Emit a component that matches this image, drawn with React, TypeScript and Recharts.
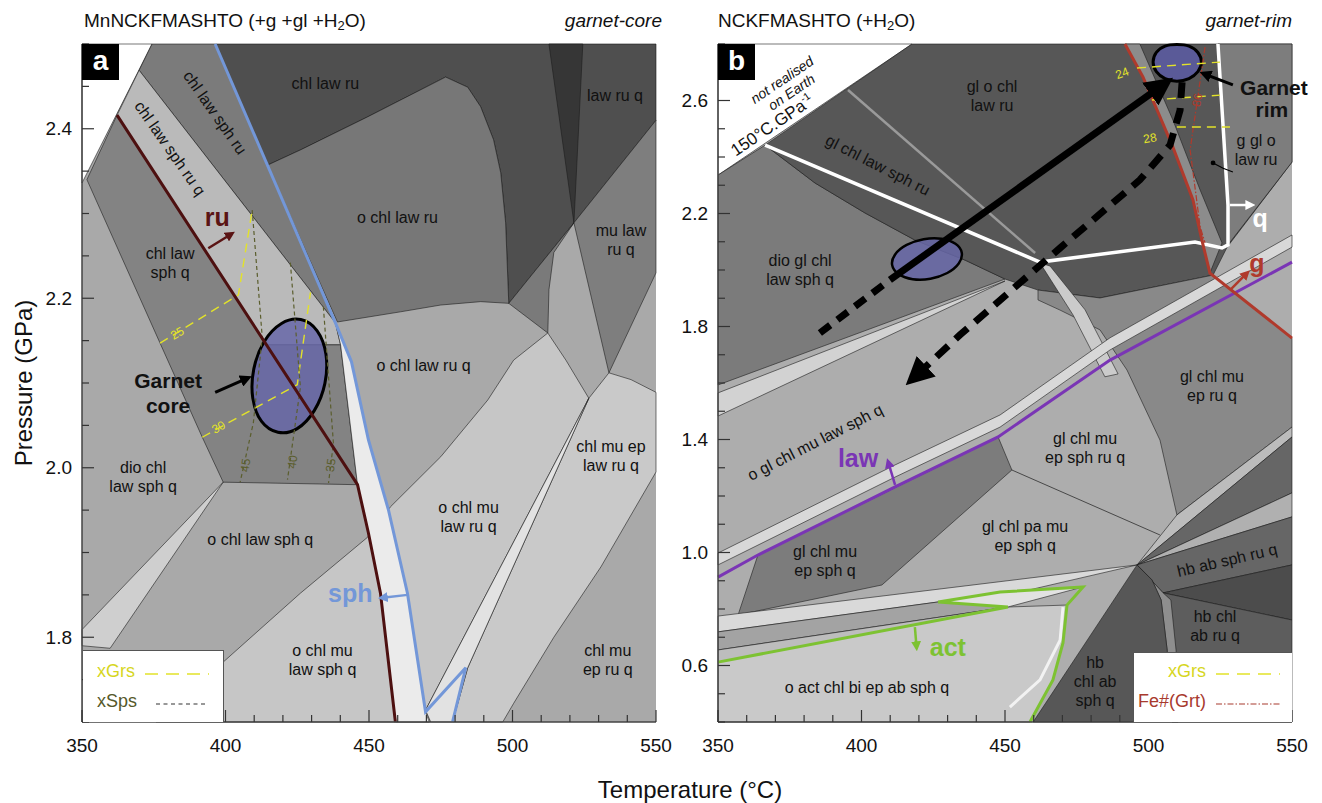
import React from 'react'
import { ComposedChart, Area, Line, Scatter, XAxis, YAxis } from 'recharts'

type Pt = [number, number]
type Label = { x: number; y: number; text: string; angle?: number }

const FONT = '"Liberation Sans", Arial, Helvetica, sans-serif'

// axes
const tempTicks = [350, 360, 370, 380, 390, 400, 410, 420, 430, 440, 450, 460, 470, 480, 490, 500, 510, 520, 530, 540, 550]
const tempLabels = [350, 400, 450, 500, 550]
const pressTicksA = [1.7, 1.75, 1.8, 1.85, 1.9, 1.95, 2.0, 2.05, 2.1, 2.15, 2.2, 2.25, 2.3, 2.35, 2.4, 2.45, 2.5]
const pressLabelsA = [1.8, 2.0, 2.2, 2.4]
const pressTicksB = [0.4, 0.5, 0.6, 0.7, 0.8, 0.9, 1.0, 1.1, 1.2, 1.3, 1.4, 1.5, 1.6, 1.7, 1.8, 1.9, 2.0, 2.1, 2.2, 2.3, 2.4, 2.5, 2.6, 2.7, 2.8]
const pressLabelsB = [0.6, 1.0, 1.4, 1.8, 2.2, 2.6]

// ---------- panel a (garnet core), T °C / P GPa ----------
const aFrame: Pt[] = [[350, 1.7], [550, 1.7], [550, 2.5], [350, 2.5], [350, 1.7]]
const aUnrealised: Pt[] = [[350, 2.5], [374.4, 2.5], [350, 2.336], [350, 2.5]]
const aChlLawSphRu: Pt[] = [[374.4, 2.5], [396.4, 2.5], [438.3, 2.171], [369.9, 2.469], [374.4, 2.5]]
const aChlLawSphRuQ: Pt[] = [[369.9, 2.469], [438.3, 2.171], [440.1, 2.145], [414.2, 2.145], [362.2, 2.416], [369.9, 2.469]]
const aChlLawSphQ: Pt[] = [[351.7, 2.34], [362.2, 2.416], [414.2, 2.145], [440.1, 2.145], [446.0, 1.98], [399.2, 1.983], [391.9, 2.036], [377.2, 2.147], [351.7, 2.34]]
const aChlLawRu: Pt[] = [[396.4, 2.5], [550, 2.5], [550, 2.41], [521.4, 2.289], [498.7, 2.194], [497.6, 2.289], [495.9, 2.348], [493.4, 2.387], [488.9, 2.426], [484.4, 2.449], [476.7, 2.461], [449.5, 2.414], [426.1, 2.375], [414.6, 2.357], [396.4, 2.5]]
const aWedgeTop: Pt[] = [[512.7, 2.5], [524.5, 2.5], [521.4, 2.289], [512.7, 2.5]]
const aOChlLawRu: Pt[] = [[414.6, 2.357], [426.1, 2.375], [449.5, 2.414], [476.7, 2.461], [484.4, 2.449], [488.9, 2.426], [493.4, 2.387], [495.9, 2.348], [497.6, 2.289], [498.7, 2.194], [488.9, 2.196], [475.0, 2.192], [461.0, 2.184], [439.0, 2.172], [414.6, 2.357]]
const aMuLawRuQ: Pt[] = [[521.4, 2.289], [550, 2.41], [550, 2.23], [533.6, 2.112], [521.4, 2.289]]
const aSmallField: Pt[] = [[498.7, 2.194], [521.4, 2.289], [514.4, 2.254], [512.7, 2.21], [512.3, 2.159], [498.7, 2.194]]
const aOChlMu: Pt[] = [[375.8, 1.7], [426.1, 1.852], [449.5, 1.918], [457.5, 1.954], [475.0, 2.013], [491.4, 2.08], [500.4, 2.127], [512.3, 2.159], [518.6, 2.127], [526.6, 2.082], [469.7, 1.714], [471.5, 1.7], [375.8, 1.7]]
const aChlMuEpLawRuQ: Pt[] = [[526.6, 2.082], [533.6, 2.112], [541.3, 2.104], [550, 2.089], [550, 1.995], [530.8, 1.883], [514.4, 1.8], [500.4, 1.722], [496.6, 1.7], [479.1, 1.7], [484.4, 1.764], [526.6, 2.082]]
const aSliver: Pt[] = [[526.6, 2.082], [484.4, 1.764], [479.1, 1.7], [471.5, 1.7], [469.7, 1.714], [526.6, 2.082]]
const aSphBand: Pt[] = [[438.3, 2.171], [440.1, 2.145], [446.0, 1.98], [449.8, 1.923], [454.0, 1.852], [459.2, 1.7], [471.0, 1.7], [469.7, 1.712], [463.4, 1.852], [456.8, 1.95], [449.8, 2.033], [443.9, 2.125], [438.3, 2.171]]
const aWedgeLeft: Pt[] = [[399.2, 1.983], [350, 1.809], [350, 1.79], [359.8, 1.787], [399.2, 1.983]]
const aGarnetCore: Pt[] = [[426.4, 2.178], [432.4, 2.164], [435.6, 2.135], [435.2, 2.099], [431.4, 2.066], [425.1, 2.043], [418.1, 2.039], [412.1, 2.052], [408.9, 2.081], [409.3, 2.117], [413.1, 2.151], [419.4, 2.173]]

const aRutileLine: Pt[] = [[362.2, 2.416], [446.0, 1.98], [449.8, 1.923], [454.0, 1.852], [459.2, 1.7]]
const aTitaniteLine: Pt[] = [[396.4, 2.5], [438.3, 2.171], [443.9, 2.125], [449.8, 2.033], [456.8, 1.95], [463.4, 1.852], [469.7, 1.712], [483.7, 1.764], [479.1, 1.7]]
const aGrs25: Pt[] = [[377.2, 2.147], [404.5, 2.204], [409.3, 2.304]]
const aGrs30: Pt[] = [[391.9, 2.036], [425.0, 2.098], [429.6, 2.207]]
const aSps45: Pt[] = [[409.3, 2.304], [412.8, 2.154], [409.7, 2.053], [405.1, 1.983]]
const aSps40: Pt[] = [[422.6, 2.242], [426.1, 2.095], [421.6, 1.986]]
const aSps35: Pt[] = [[434.1, 2.19], [437.6, 2.029], [435.9, 1.982]]
const aRuArrow: Pt[] = [[394.0, 2.259], [401.2, 2.274]]
const aCoreArrow: Pt[] = [[396.4, 2.089], [406.5, 2.104]]
const aSphArrow: Pt[] = [[463.4, 1.85], [455.5, 1.847]]

const aFieldLabels: Label[] = [
  { x: 434.8, y: 2.453, text: 'chl law ru' },
  { x: 535.7, y: 2.439, text: 'law ru q' },
  { x: 380.7, y: 2.242, text: 'chl law\nsph q' },
  { x: 459.9, y: 2.295, text: 'o chl law ru' },
  { x: 537.8, y: 2.269, text: 'mu law\nru q' },
  { x: 469.0, y: 2.121, text: 'o chl law ru q' },
  { x: 484.7, y: 1.942, text: 'o chl mu\nlaw ru q' },
  { x: 534.3, y: 2.014, text: 'chl mu ep\nlaw ru q' },
  { x: 533.2, y: 1.773, text: 'chl mu\nep ru q' },
  { x: 371.3, y: 1.989, text: 'dio chl\nlaw sph q' },
  { x: 412.1, y: 1.915, text: 'o chl law sph q' },
  { x: 433.8, y: 1.773, text: 'o chl mu\nlaw sph q' },
  { x: 396.4, y: 2.419, text: 'chl law sph ru', angle: 55 },
  { x: 380.7, y: 2.377, text: 'chl law sph ru q', angle: 55 },
]
const aBoldLabels: Label[] = [{ x: 380.0, y: 2.088, text: 'Garnet\ncore' }]
const aReactionLabels: Label[] = [
  { x: 397.1, y: 2.295, text: 'ru' },
  { x: 443.5, y: 1.852, text: 'sph' },
]
const aGrsLabels: Label[] = [
  { x: 383.2, y: 2.159, text: '25', angle: -30 },
  { x: 397.5, y: 2.048, text: '30', angle: -30 },
]
const aSpsLabels: Label[] = [
  { x: 406.9, y: 2.003, text: '45', angle: -82 },
  { x: 423.3, y: 2.007, text: '40', angle: -82 },
  { x: 436.6, y: 2.003, text: '35', angle: -82 },
]

// ---------- panel b (garnet rim) ----------
const bFrame: Pt[] = [[350, 0.4], [550, 0.4], [550, 2.8], [350, 2.8], [350, 0.4]]
const bUnrealised: Pt[] = [[350, 2.8], [417.6, 2.8], [350, 2.336], [350, 2.8]]
const bDioGlChl: Pt[] = [[350, 2.336], [366.4, 2.442], [383.8, 2.308], [401.2, 2.202], [418.6, 2.106], [436.1, 2.035], [450.0, 1.968], [350, 1.593], [350, 2.336]]
const bDarkTop: Pt[] = [[366.4, 2.442], [417.6, 2.8], [550, 2.8], [550, 2.382], [527.4, 2.081], [522.5, 1.982], [483.1, 1.901], [461.5, 1.929], [450.0, 1.968], [436.1, 2.035], [418.6, 2.106], [401.2, 2.202], [383.8, 2.308], [366.4, 2.442]]
const bRedBand: Pt[] = [[491.8, 2.8], [497.0, 2.8], [508.5, 2.531], [518.0, 2.283], [525.6, 2.096], [521.4, 1.989], [518.6, 2.106], [515.5, 2.248], [508.5, 2.435], [498.1, 2.683], [491.8, 2.8]]
const bQuartzSide: Pt[] = [[524.2, 2.8], [550, 2.8], [550, 2.382], [527.7, 2.089], [527.7, 2.23], [524.2, 2.8]]
const bCurvedBand: Pt[] = [[462.2, 2.025], [465.7, 2.014], [477.9, 1.859], [489.4, 1.632], [484.8, 1.622], [473.7, 1.841], [462.2, 2.025]]
const bGlChlMuEpRuQ: Pt[] = [[461.5, 1.929], [483.1, 1.901], [522.5, 1.982], [550, 1.759], [550, 1.444], [509.9, 1.133], [504.0, 1.398], [492.5, 1.646], [483.1, 1.788], [469.2, 1.858], [461.5, 1.894], [461.5, 1.929]]
const bLawBand: Pt[] = [[350, 0.998], [411.7, 1.31], [448.3, 1.487], [486.6, 1.76], [550, 2.124], [550, 2.081], [486.6, 1.717], [448.3, 1.444], [411.7, 1.267], [350, 0.956], [350, 0.998]]
const bUpperBand: Pt[] = [[350, 1.565], [450.0, 1.961], [350, 1.483], [350, 1.565]]
const bGlChlMuEpSphQ: Pt[] = [[363.9, 0.991], [447.6, 1.409], [452.4, 1.292], [407.1, 0.885], [357.0, 0.779], [363.9, 0.991]]
const bLowBandLight: Pt[] = [[350, 0.775], [496.0, 0.956], [451.0, 0.85], [426.7, 0.825], [350, 0.719], [350, 0.775]]
const bLowBandMid: Pt[] = [[350, 0.719], [426.7, 0.825], [451.0, 0.807], [350, 0.655], [350, 0.719]]
const bLowBandPale: Pt[] = [[350, 0.655], [451.0, 0.807], [350, 0.612], [350, 0.655]]
const bActField: Pt[] = [[350, 0.612], [451.0, 0.807], [471.6, 0.814], [470.2, 0.68], [466.7, 0.549], [458.7, 0.4], [350, 0.4], [350, 0.612]]
const bActNotch: Pt[] = [[426.7, 0.825], [451.0, 0.807], [477.2, 0.878], [448.3, 0.86], [426.7, 0.825]]
const bFanPale: Pt[] = [[496.0, 0.956], [509.9, 1.133], [550, 1.444], [550, 1.409], [496.0, 0.956]]
const bFanDark: Pt[] = [[496.0, 0.956], [550, 1.409], [550, 1.211], [496.0, 0.956]]
const bFanPale2: Pt[] = [[496.0, 0.956], [550, 1.211], [550, 1.126], [496.0, 0.956]]
const bHbAbSphRuQ: Pt[] = [[496.0, 0.956], [550, 1.126], [550, 0.956], [505.1, 0.857], [496.0, 0.956]]
const bHbDark: Pt[] = [[505.1, 0.857], [550, 0.956], [550, 0.761], [505.1, 0.857]]
const bHbChlAbRuQ: Pt[] = [[505.1, 0.857], [550, 0.761], [550, 0.4], [508.2, 0.4], [507.5, 0.655], [505.1, 0.857]]
const bHbBand: Pt[] = [[496.0, 0.956], [501.2, 0.903], [504.4, 0.832], [506.5, 0.655], [507.2, 0.4], [510.3, 0.4], [509.6, 0.655], [507.8, 0.832], [505.1, 0.857], [496.0, 0.956]]
const bHbChlAbSphQ: Pt[] = [[496.0, 0.956], [501.2, 0.903], [504.4, 0.832], [506.5, 0.655], [507.2, 0.4], [459.8, 0.4], [496.0, 0.956]]
const bGarnetRim: Pt[] = [[518.9, 2.736], [517.5, 2.701], [514.3, 2.675], [509.9, 2.665], [505.6, 2.675], [502.4, 2.701], [501.2, 2.736], [502.4, 2.772], [505.6, 2.796], [509.9, 2.799], [514.3, 2.796], [517.5, 2.772]]
const bPeakEstimate: Pt[] = [[435.5, 2.062], [434.4, 2.022], [430.2, 1.987], [424.1, 1.966], [417.6, 1.964], [412.5, 1.983], [410.1, 2.016], [411.2, 2.056], [415.4, 2.091], [421.6, 2.112], [428.1, 2.114], [433.2, 2.095]]

const bWhiteLine: Pt[] = [[524.2, 2.8], [527.7, 2.23], [527.7, 2.089], [525.6, 2.078], [516.2, 2.099], [462.2, 2.028], [366.4, 2.442]]
const bSliverLine: Pt[] = [[395.3, 2.637], [460.5, 2.06]]
const bGarnetLine: Pt[] = [[491.8, 2.8], [498.1, 2.683], [508.5, 2.435], [515.5, 2.248], [518.6, 2.106], [521.4, 1.989], [550, 1.759]]
const bFeNumber: Pt[] = [[519.7, 2.789], [514.5, 2.425], [518.0, 2.152], [519.7, 2.096]]
const bLawsoniteLine: Pt[] = [[350, 0.913], [363.9, 0.991], [411.7, 1.232], [447.6, 1.409], [486.6, 1.681], [550, 2.028]]
const bActinoliteLine: Pt[] = [[350, 0.612], [451.0, 0.807], [426.7, 0.825], [448.3, 0.86], [477.2, 0.878], [471.6, 0.814], [470.2, 0.68], [466.7, 0.549], [458.7, 0.4]]
const bWhiteSliver: Pt[] = [[470.2, 0.807], [469.2, 0.69], [462.2, 0.549], [451.7, 0.453]]
const bSphRuLine: Pt[] = [[452.4, 1.292], [504.0, 1.062]]
const bGrs24: Pt[] = [[496.0, 2.715], [524.9, 2.736]]
const bGrs26: Pt[] = [[501.2, 2.602], [524.9, 2.619]]
const bGrs28: Pt[] = [[509.9, 2.506], [528.4, 2.506]]
const bPathStart: Pt[] = [[385.5, 1.777], [409.9, 1.965]]
const bPathPrograde: Pt[] = [[409.9, 1.965], [503.0, 2.64]]
const bPathRetrograde: Pt[] = [[511.7, 2.665], [511.0, 2.566], [507.5, 2.442], [497.0, 2.319], [469.2, 2.078], [434.3, 1.77], [420.4, 1.639]]
const bLawArrow: Pt[] = [[411.7, 1.239], [409.6, 1.31]]
const bActArrow: Pt[] = [[418.6, 0.736], [419.1, 0.675]]
const bQArrow: Pt[] = [[528.4, 2.23], [534.8, 2.23]]
const bGArrow: Pt[] = [[528.4, 1.929], [533.6, 1.982]]
const bRimArrow: Pt[] = [[529.4, 2.655], [520.5, 2.69]]
const bCallout: Pt[] = [[522.5, 2.379], [526.0, 2.36], [529.4, 2.347]]

const bFieldLabels: Label[] = [
  { x: 445.5, y: 2.616, text: 'gl o chl\nlaw ru' },
  { x: 378.6, y: 2.0, text: 'dio gl chl\nlaw sph q' },
  { x: 537.5, y: 2.425, text: 'g gl o\nlaw ru' },
  { x: 387.3, y: 0.97, text: 'gl chl mu\nep sph q' },
  { x: 457.0, y: 1.058, text: 'gl chl pa mu\nep sph q' },
  { x: 477.9, y: 1.37, text: 'gl chl mu\nep sph ru q' },
  { x: 522.1, y: 1.589, text: 'gl chl mu\nep ru q' },
  { x: 523.2, y: 0.74, text: 'hb chl\nab ru q' },
  { x: 481.4, y: 0.545, text: 'hb\nchl ab\nsph q' },
  { x: 401.9, y: 0.524, text: 'o act chl bi ep ab sph q' },
  { x: 405.7, y: 2.372, text: 'gl chl law sph ru', angle: 27 },
  { x: 383.8, y: 1.391, text: 'o gl chl mu law sph q', angle: -27 },
  { x: 527.4, y: 0.973, text: 'hb ab sph ru q', angle: -13 },
]
const bBoldLabels: Label[] = [
  { x: 543.7, y: 2.644, text: 'Garnet' },
  { x: 543.0, y: 2.566, text: 'rim' },
]
const bReactionLabels: Label[] = [
  { x: 398.8, y: 1.335, text: 'law' },
  { x: 430.1, y: 0.666, text: 'act' },
  { x: 538.9, y: 2.184, text: 'q' },
  { x: 537.8, y: 2.025, text: 'g' },
]
const bNoteLabels: Label[] = [
  { x: 372.3, y: 2.673, text: 'not realised', angle: -34 },
  { x: 375.6, y: 2.63, text: 'on Earth', angle: -34 },
]
const bGradientLabel: Label[] = [{ x: 368.8, y: 2.513, text: '150°C.GPa', angle: -34 }]
const bGrsLabels: Label[] = [
  { x: 490.8, y: 2.697, text: '24', angle: -20 },
  { x: 500.5, y: 2.467, text: '28', angle: -10 },
]
const bFeLabels: Label[] = [{ x: 516.9, y: 2.602, text: '86', angle: -80 }]

// ---------- helpers ----------
const rows = (pts: Pt[]) => pts.map(([x, y]) => ({ x, y }))
const isIn = (v: number, list: number[]) => list.some((l) => Math.abs(l - v) < 1e-6)

const reactionColor: Record<string, string> = {
  ru: '#5a1414', sph: '#7397d8', law: '#7a35b5', act: '#7dc232', q: '#ffffff', g: '#b03a2c',
}

function field(key: string, pts: Pt[], fill: string, type: any = 'linear', stroke = '#1c1c1c', sw = 0.6, opacity = 1) {
  return (
    <Area key={key} data={rows(pts)} dataKey="y" type={type} fill={fill} fillOpacity={opacity}
      stroke={stroke} strokeWidth={sw} dot={false} activeDot={false} isAnimationActive={false} />
  )
}

function curve(key: string, pts: Pt[], color: string, width: number, dash?: string, markerEnd?: string, markerStart?: string) {
  return (
    <Line key={key} data={rows(pts)} dataKey="y" type="linear" stroke={color} strokeWidth={width}
      strokeDasharray={dash} dot={false} activeDot={false} isAnimationActive={false}
      markerEnd={markerEnd} markerStart={markerStart} />
  )
}

function textShape(size: number, color: string | ((t: string) => string), weight: number | string = 400, italic = false, sup?: string) {
  return (p: any) => {
    const { cx, cy, payload } = p
    if (cx == null || cy == null) return <g />
    const lines = String(payload.text).split('\n')
    const lh = size * 1.18
    const top = cy - ((lines.length - 1) * lh) / 2
    const fill = typeof color === 'function' ? color(payload.text) : color
    return (
      <text textAnchor="middle" fontSize={size} fontFamily={FONT} fontWeight={weight}
        fontStyle={italic ? 'italic' : 'normal'} fill={fill}
        transform={payload.angle ? `rotate(${payload.angle} ${cx} ${cy})` : undefined}>
        {lines.map((l, i) => (
          <tspan key={i} x={cx} y={top + i * lh} dy="0.35em">{l}</tspan>
        ))}
        {sup && <tspan dy="-0.65em" fontSize={size * 0.62}>{sup}</tspan>}
      </text>
    )
  }
}

function labels(key: string, data: Label[], shape: (p: any) => React.ReactElement) {
  return <Scatter key={key} data={data} dataKey="y" isAnimationActive={false} shape={shape} />
}

function bottomTick(p: any) {
  const { x, y, payload } = p
  const major = isIn(payload.value, tempLabels)
  return (
    <g>
      <line x1={x} x2={x} y1={y} y2={y - (major ? 12 : 7)} stroke="#333" strokeWidth={1.2} />
      {major && (
        <text x={x} y={y + 30} textAnchor="middle" fontSize={19} fontFamily={FONT} fill="#111">{payload.value}</text>
      )}
    </g>
  )
}

function topTick(p: any) {
  const { x, y, payload } = p
  const major = isIn(payload.value, tempLabels)
  return <line x1={x} x2={x} y1={y} y2={y + (major ? 12 : 7)} stroke="#333" strokeWidth={1.2} />
}

function leftTick(labelsList: number[]) {
  return (p: any) => {
    const { x, y, payload } = p
    const major = isIn(payload.value, labelsList)
    return (
      <g>
        <line x1={x} x2={x + (major ? 12 : 7)} y1={y} y2={y} stroke="#333" strokeWidth={1.2} />
        {major && (
          <text x={x - 10} y={y} dy="0.35em" textAnchor="end" fontSize={19} fontFamily={FONT} fill="#111">
            {Number(payload.value).toFixed(1)}
          </text>
        )}
      </g>
    )
  }
}

function rightTick(labelsList: number[]) {
  return (p: any) => {
    const { x, y, payload } = p
    const major = isIn(payload.value, labelsList)
    return <line x1={x} x2={x - (major ? 12 : 7)} y1={y} y2={y} stroke="#333" strokeWidth={1.2} />
  }
}

function axes(yDomain: [number, number], yTicks: number[], yLabels: number[], leftWidth: number) {
  const line = { stroke: '#444', strokeWidth: 1.5 }
  return [
    <XAxis key="xb" xAxisId={0} type="number" dataKey="x" domain={[350, 550]} ticks={tempTicks} interval={0}
      tickSize={0} tickMargin={0} height={81} axisLine={line} tickLine={false} tick={bottomTick} />,
    <XAxis key="xt" xAxisId="top" orientation="top" type="number" dataKey="x" domain={[350, 550]} ticks={tempTicks}
      interval={0} tickSize={0} tickMargin={0} height={0} axisLine={line} tickLine={false} tick={topTick} />,
    <YAxis key="yl" yAxisId={0} type="number" dataKey="y" domain={yDomain} ticks={yTicks} interval={0}
      tickSize={0} tickMargin={0} width={leftWidth} axisLine={line} tickLine={false} tick={leftTick(yLabels)} />,
    <YAxis key="yr" yAxisId="right" orientation="right" type="number" dataKey="y" domain={yDomain} ticks={yTicks}
      interval={0} tickSize={0} tickMargin={0} width={0} axisLine={line} tickLine={false} tick={rightTick(yLabels)} />,
  ]
}

const fieldText = textShape(16, '#111')
const boldText = textShape(21, '#111', 700)
const reactionText = textShape(25, (t) => reactionColor[t] || '#000', 700)
const grsText = textShape(12, '#e2e22a')
const spsText = textShape(12, '#5b5e2e')
const feText = textShape(12, '#b03a2c')
const noteText = textShape(14, '#111', 400, true)
const gradientText = textShape(17, '#111', 400, false, '-1')

function Marker({ id, color, shape = 'arrow' }: { id: string; color: string; shape?: string }) {
  if (shape === 'dot') {
    return (
      <marker id={id} viewBox="0 0 10 10" refX="5" refY="5" markerWidth="5" markerHeight="5">
        <circle cx="5" cy="5" r="4" fill={color} />
      </marker>
    )
  }
  return (
    <marker id={id} viewBox="0 0 10 10" refX="3" refY="5" markerWidth="4" markerHeight="4" orient="auto">
      <path d="M0,0 L10,5 L0,10 z" fill={color} />
    </marker>
  )
}

function PanelA() {
  return (
    <ComposedChart width={700} height={803} margin={{ top: 44, right: 44, bottom: 0, left: 0 }}>
      {field('bg', aFrame, '#a9a9a9', 'linear', 'none')}
      {field('unreal', aUnrealised, '#ffffff')}
      {field('clsr', aChlLawSphRu, '#7b7b7b')}
      {field('clsrq', aChlLawSphRuQ, '#bababa')}
      {field('clsq', aChlLawSphQ, '#838383')}
      {field('clr', aChlLawRu, '#4f4f4f')}
      {field('wedgeTop', aWedgeTop, '#363636')}
      {field('oclr', aOChlLawRu, '#777777')}
      {field('mlrq', aMuLawRuQ, '#7e7e7e')}
      {field('small', aSmallField, '#7a7a7a')}
      {field('ocm', aOChlMu, '#c6c6c6')}
      {field('cmelrq', aChlMuEpLawRuQ, '#c9c9c9')}
      {field('sliver', aSliver, '#e2e2e2')}
      {field('sphband', aSphBand, '#ebebeb')}
      {field('wedgeLeft', aWedgeLeft, '#cfcfcf')}
      {field('core', aGarnetCore, '#6767a8', 'basisClosed', '#000', 3, 0.85)}

      {curve('grs25', aGrs25, '#e2e22a', 1.4, '9 6')}
      {curve('grs30', aGrs30, '#e2e22a', 1.4, '9 6')}
      {curve('sps45', aSps45, '#5b5e2e', 1.2, '4 3')}
      {curve('sps40', aSps40, '#5b5e2e', 1.2, '4 3')}
      {curve('sps35', aSps35, '#5b5e2e', 1.2, '4 3')}
      {curve('ru', aRutileLine, '#4d1010', 3)}
      {curve('sph', aTitaniteLine, '#7397d8', 3)}
      {curve('ruArrow', aRuArrow, '#5a1414', 2.5, undefined, 'url(#m-ru)')}
      {curve('coreArrow', aCoreArrow, '#000', 3, undefined, 'url(#m-black)')}
      {curve('sphArrow', aSphArrow, '#7397d8', 2.5, undefined, 'url(#m-blue)')}

      {labels('fl', aFieldLabels, fieldText)}
      {labels('bl', aBoldLabels, boldText)}
      {labels('rl', aReactionLabels, reactionText)}
      {labels('gl', aGrsLabels, grsText)}
      {labels('sl', aSpsLabels, spsText)}

      {axes([1.7, 2.5], pressTicksA, pressLabelsA, 82)}
    </ComposedChart>
  )
}

function PanelB() {
  return (
    <ComposedChart width={682} height={803} margin={{ top: 44, right: 30, bottom: 0, left: 0 }}>
      {field('bg', bFrame, '#adadad', 'linear', 'none')}
      {field('unreal', bUnrealised, '#ffffff')}
      {field('dio', bDioGlChl, '#7b7b7b')}
      {field('dark', bDarkTop, '#575757')}
      {field('redband', bRedBand, '#8c8c8c')}
      {field('qside', bQuartzSide, '#7d7d7d')}
      {field('gcmer', bGlChlMuEpRuQ, '#898989')}
      {field('curved', bCurvedBand, '#cbcbcb')}
      {field('lawband', bLawBand, '#d8d8d8')}
      {field('upband', bUpperBand, '#d2d2d2')}
      {field('quad', bGlChlMuEpSphQ, '#7c7c7c')}
      {field('lowL', bLowBandLight, '#d9d9d9')}
      {field('lowM', bLowBandMid, '#a3a3a3')}
      {field('lowP', bLowBandPale, '#bdbdbd')}
      {field('act', bActField, '#c9c9c9')}
      {field('notch', bActNotch, '#e2e2e2')}
      {field('fanP', bFanPale, '#bcbcbc')}
      {field('fanD', bFanDark, '#666666')}
      {field('fanP2', bFanPale2, '#b0b0b0')}
      {field('hbab', bHbAbSphRuQ, '#666666')}
      {field('hbdark', bHbDark, '#4c4c4c')}
      {field('hbchl', bHbChlAbRuQ, '#5d5d5d')}
      {field('hbband', bHbBand, '#8e8e8e')}
      {field('hbsph', bHbChlAbSphQ, '#575757')}
      {field('peak', bPeakEstimate, '#6767a8', 'basisClosed', '#000', 2.5, 0.85)}
      {field('rim', bGarnetRim, '#5a5a98', 'basisClosed', '#000', 3, 1)}

      {curve('sliver', bSliverLine, '#9a9a9a', 2.5)}
      {curve('sphru', bSphRuLine, '#1c1c1c', 0.7)}
      {curve('white', bWhiteLine, '#ffffff', 3.5)}
      {curve('wsliver', bWhiteSliver, '#f2f2f2', 3)}
      {curve('law', bLawsoniteLine, '#7a35b5', 3)}
      {curve('act', bActinoliteLine, '#7dc232', 3)}
      {curve('garnet', bGarnetLine, '#b03a2c', 3)}
      {curve('fe', bFeNumber, '#b03a2c', 1.2, '6 2 1.5 2')}
      {curve('g24', bGrs24, '#e2e22a', 1.4, '9 6')}
      {curve('g26', bGrs26, '#e2e22a', 1.4, '9 6')}
      {curve('g28', bGrs28, '#e2e22a', 1.4, '9 6')}
      {curve('pathStart', bPathStart, '#000', 7, '13 9')}
      {curve('prograde', bPathPrograde, '#000', 7, undefined, 'url(#m-black)')}
      {curve('retro', bPathRetrograde, '#000', 7, '16 10', 'url(#m-black)')}
      {curve('lawArrow', bLawArrow, '#7a35b5', 2.5, undefined, 'url(#m-purple)')}
      {curve('actArrow', bActArrow, '#7dc232', 2.5, undefined, 'url(#m-green)')}
      {curve('qArrow', bQArrow, '#ffffff', 2.5, undefined, 'url(#m-white)')}
      {curve('gArrow', bGArrow, '#b03a2c', 2.5, undefined, 'url(#m-red)')}
      {curve('rimArrow', bRimArrow, '#000', 3, undefined, 'url(#m-black)')}
      {curve('callout', bCallout, '#000', 1.2, undefined, undefined, 'url(#m-dot)')}

      {labels('fl', bFieldLabels, fieldText)}
      {labels('bl', bBoldLabels, boldText)}
      {labels('rl', bReactionLabels, reactionText)}
      {labels('nl', bNoteLabels, noteText)}
      {labels('gr', bGradientLabel, gradientText)}
      {labels('gl', bGrsLabels, grsText)}
      {labels('fe', bFeLabels, feText)}

      {axes([0.4, 2.8], pressTicksB, pressLabelsB, 78)}
    </ComposedChart>
  )
}

const abs = (s: React.CSSProperties): React.CSSProperties => ({ position: 'absolute', ...s })

export default function App() {
  return (
    <div style={abs({ left: 0, top: 0, width: 1322, height: 803, background: '#fff', fontFamily: FONT, overflow: 'hidden', color: '#111' })}>
      <svg width={0} height={0} style={{ position: 'absolute' }}>
        <defs>
          <Marker id="m-black" color="#000" />
          <Marker id="m-ru" color="#5a1414" />
          <Marker id="m-blue" color="#7397d8" />
          <Marker id="m-purple" color="#7a35b5" />
          <Marker id="m-green" color="#7dc232" />
          <Marker id="m-white" color="#ffffff" />
          <Marker id="m-red" color="#b03a2c" />
          <Marker id="m-dot" color="#000" shape="dot" />
        </defs>
      </svg>

      <div style={abs({ left: 0, top: 0 })}><PanelA /></div>
      <div style={abs({ left: 640, top: 0 })}><PanelB /></div>

      <div style={abs({ left: 84, top: 10, fontSize: 19, whiteSpace: 'nowrap' })}>
        MnNCKFMASHTO (+g +gl +H<span style={{ fontSize: 13, verticalAlign: '-0.2em' }}>2</span>O)
      </div>
      <div style={abs({ left: 500, width: 162, top: 10, fontSize: 19, fontStyle: 'italic', textAlign: 'right' })}>garnet-core</div>
      <div style={abs({ left: 718, top: 10, fontSize: 19, whiteSpace: 'nowrap' })}>
        NCKFMASHTO (+H<span style={{ fontSize: 13, verticalAlign: '-0.2em' }}>2</span>O)
      </div>
      <div style={abs({ left: 1132, width: 160, top: 10, fontSize: 19, fontStyle: 'italic', textAlign: 'right' })}>garnet-rim</div>

      <div style={abs({ left: 82, top: 44, width: 37, height: 36, background: '#000', color: '#fff', fontWeight: 700, fontSize: 28, lineHeight: '34px', textAlign: 'center' })}>a</div>
      <div style={abs({ left: 718, top: 44, width: 37, height: 36, background: '#000', color: '#fff', fontWeight: 700, fontSize: 28, lineHeight: '34px', textAlign: 'center' })}>b</div>

      <div style={abs({ left: -126, top: 368, width: 300, height: 30, lineHeight: '30px', fontSize: 24, textAlign: 'center', transform: 'rotate(-90deg)' })}>Pressure (GPa)</div>
      <div style={abs({ left: 540, top: 775, width: 300, height: 30, lineHeight: '30px', fontSize: 24, textAlign: 'center' })}>Temperature (°C)</div>

      <div style={abs({ left: 83, top: 650, width: 140, height: 71, background: '#fff', borderTop: '1px solid #555', borderRight: '1px solid #555' })}>
        <div style={abs({ left: 14, top: 10, fontSize: 18, color: '#d6d61e' })}>xGrs</div>
        <svg style={{ position: 'absolute', left: 62, top: 21 }} width={66} height={4}>
          <line x1={0} x2={64} y1={2} y2={2} stroke="#e2e22a" strokeWidth={1.5} strokeDasharray="13 8" />
        </svg>
        <div style={abs({ left: 14, top: 40, fontSize: 18, color: '#55582a' })}>xSps</div>
        <svg style={{ position: 'absolute', left: 73, top: 51 }} width={54} height={4}>
          <line x1={0} x2={52} y1={2} y2={2} stroke="#333" strokeWidth={1.2} strokeDasharray="4 3.5" />
        </svg>
      </div>

      <div style={abs({ left: 1133, top: 652, width: 158, height: 69, background: '#fff', borderTop: '1px solid #555', borderLeft: '1px solid #555' })}>
        <div style={abs({ left: 0, width: 72, top: 8, fontSize: 18, color: '#d6d61e', textAlign: 'right' })}>xGrs</div>
        <svg style={{ position: 'absolute', left: 82, top: 19 }} width={66} height={4}>
          <line x1={0} x2={64} y1={2} y2={2} stroke="#e2e22a" strokeWidth={1.5} strokeDasharray="13 8" />
        </svg>
        <div style={abs({ left: 0, width: 72, top: 38, fontSize: 18, color: '#a83a2e', textAlign: 'right' })}>Fe#(Grt)</div>
        <svg style={{ position: 'absolute', left: 82, top: 49 }} width={66} height={4}>
          <line x1={0} x2={64} y1={2} y2={2} stroke="#a83a2e" strokeWidth={1.2} strokeDasharray="6 2 1.5 2" />
        </svg>
      </div>
    </div>
  )
}
